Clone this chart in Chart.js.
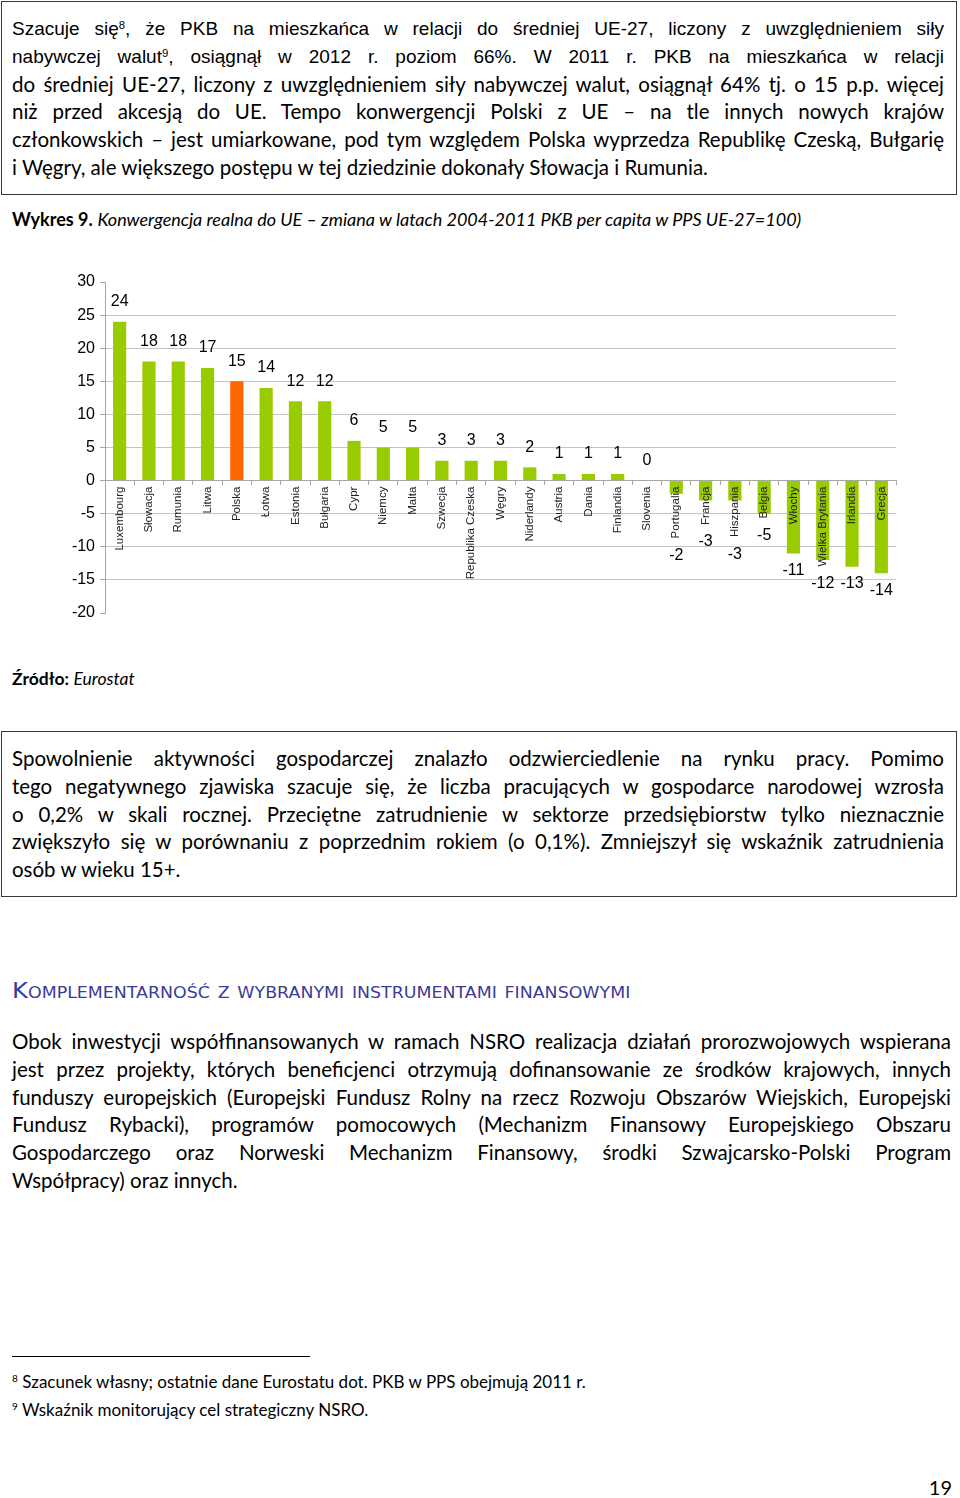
<!DOCTYPE html>
<html lang="pl">
<head>
<meta charset="utf-8">
<title>Wykres 9 - Konwergencja realna do UE</title>
<script src="https://cdn.jsdelivr.net/npm/chart.js@4.4.1/dist/chart.umd.min.js"></script>
<style>
  html, body { margin: 0; padding: 0; background: #fff; }
  body { width: 960px; height: 1498px; position: relative; overflow: hidden; color: #000;
         font-family: Lato, "Open Sans", sans-serif; }
  .abs { position: absolute; }
  .box { position: absolute; left: 1px; width: 956px; border: 1.5px solid #3a3a3a; box-sizing: border-box; }
  .ln { height: 27.8px; line-height: 27.8px; text-align: justify; text-align-last: justify; white-space: normal; }
  .ln.last { text-align-last: left; }
  .arial { font-family: "Liberation Sans", Arial, sans-serif; font-size: 19px; }
  .cal { font-size: 20px; }
  sup { font-size: 0.6em; vertical-align: baseline; position: relative; top: -0.55em; line-height: 0; }
  #heading { left: 12px; top: 978px; font-family: "DejaVu Sans", sans-serif; font-variant: small-caps;
             font-size: 21px; color: #3c3c96; white-space: nowrap; transform-origin: 0 50%; line-height: 26px; }
</style>
</head>
<body>

<div class="box" style="top:1px;height:194px;"></div>
<div class="abs" style="left:12px;top:15px;width:932px;">
  <div class="ln arial">Szacuje się<sup>8</sup>, że PKB na mieszkańca w relacji do średniej UE-27, liczony z uwzględnieniem siły</div>
  <div class="ln arial">nabywczej walut<sup>9</sup>, osiągnął w 2012 r. poziom 66%. W 2011 r. PKB na mieszkańca w relacji</div>
  <div class="ln cal">do średniej UE-27, liczony z uwzględnieniem siły nabywczej walut, osiągnął 64% tj. o 15 p.p. więcej</div>
  <div class="ln cal">niż przed akcesją do UE. Tempo konwergencji Polski z UE – na tle innych nowych krajów</div>
  <div class="ln cal">członkowskich – jest umiarkowane, pod tym względem Polska wyprzedza Republikę Czeską, Bułgarię</div>
  <div class="ln cal last">i Węgry, ale większego postępu w tej dziedzinie dokonały Słowacja i Rumunia.</div>
</div>

<div class="abs" style="left:12px;top:208px;font-size:18px;line-height:22px;">
  <b>Wykres 9.</b> <i>Konwergencja realna do UE – zmiana w latach 2004-2011 PKB per capita w PPS UE-27=100)</i>
</div>

<div class="abs" style="left:0;top:260px;width:960px;height:370px;">
  <canvas id="convergenceChart"></canvas>
</div>

<div class="abs" style="left:12px;top:668px;font-size:17.5px;line-height:22px;">
  <b>Źródło:</b> <i>Eurostat</i>
</div>

<div class="box" style="top:731px;height:166px;"></div>
<div class="abs" style="left:12px;top:745px;width:932px;">
  <div class="ln cal">Spowolnienie aktywności gospodarczej znalazło odzwierciedlenie na rynku pracy. Pomimo</div>
  <div class="ln cal">tego negatywnego zjawiska szacuje się, że liczba pracujących w gospodarce narodowej wzrosła</div>
  <div class="ln cal">o 0,2% w skali rocznej. Przeciętne zatrudnienie w sektorze przedsiębiorstw tylko nieznacznie</div>
  <div class="ln cal">zwiększyło się w porównaniu z poprzednim rokiem (o 0,1%). Zmniejszył się wskaźnik zatrudnienia</div>
  <div class="ln cal last">osób w wieku 15+.</div>
</div>

<div id="heading" class="abs">Komplementarność z wybranymi instrumentami finansowymi</div>

<div class="abs" style="left:12px;top:1028px;width:939px;">
  <div class="ln cal">Obok inwestycji współfinansowanych w ramach NSRO realizacja działań prorozwojowych wspierana</div>
  <div class="ln cal">jest przez projekty, których beneficjenci otrzymują dofinansowanie ze środków krajowych, innych</div>
  <div class="ln cal">funduszy europejskich (Europejski Fundusz Rolny na rzecz Rozwoju Obszarów Wiejskich, Europejski</div>
  <div class="ln cal">Fundusz Rybacki), programów pomocowych (Mechanizm Finansowy Europejskiego Obszaru</div>
  <div class="ln cal">Gospodarczego oraz Norweski Mechanizm Finansowy, środki Szwajcarsko-Polski Program</div>
  <div class="ln cal last">Współpracy) oraz innych.</div>
</div>

<div class="abs" style="left:12px;top:1356px;width:298px;height:1px;background:#000;"></div>
<div class="abs" style="left:12px;top:1368px;font-size:17px;line-height:28px;">
  <div><sup>8</sup> Szacunek własny; ostatnie dane Eurostatu dot. PKB w PPS obejmują 2011 r.</div>
  <div><sup>9</sup> Wskaźnik monitorujący cel strategiczny NSRO.</div>
</div>

<div class="abs" style="right:8px;top:1476px;font-size:20px;line-height:22px;">19</div>

<script>
// Chart data
const categories = ['Luxembourg', 'Słowacja', 'Rumunia', 'Litwa', 'Polska', 'Łotwa', 'Estonia', 'Bułgaria',
    'Cypr', 'Niemcy', 'Malta', 'Szwecja', 'Republika Czeska', 'Węgry', 'Niderlandy', 'Austria', 'Dania',
    'Finlandia', 'Slovenia', 'Portugalia', 'Francja', 'Hiszpania', 'Belgia', 'Włochy', 'Wielka Brytania',
    'Irlandia', 'Grecja'];
const values = [24, 18, 18, 17, 15, 14, 12, 12, 6, 5, 5, 3, 3, 3, 2, 1, 1, 1, 0, -2, -3, -3, -5, -11, -12, -13, -14];
const yTicks = [-20, -15, -10, -5, 0, 5, 10, 15, 20, 25, 30];
const highlighted = 'Polska';

const barGreen = '#99cc00';
const barOrange = '#ff6600';
const nameFontSize = 11.5;

// shrink a group of justified lines until none of them wraps
function fitLines(selector, size) {
    const lines = Array.from(document.querySelectorAll(selector));
    const wraps = () => lines.some(l => l.scrollHeight > 40);
    lines.forEach(l => l.style.fontSize = size + 'px');
    while (wraps() && size > 10) {
        size -= 0.25;
        lines.forEach(l => l.style.fontSize = size + 'px');
    }
}
fitLines('.ln.arial', 19);
fitLines('.ln.cal', 20.5);

const heading = document.getElementById('heading');
heading.style.transform = 'scaleX(' + (618 / heading.offsetWidth) + ')';

Chart.defaults.font.family = '"Liberation Sans", Arial, sans-serif';
Chart.defaults.color = '#000';

// value labels above positive bars, below the category name for negative ones
const valueLabels = {
    id: 'valueLabels',
    afterDatasetsDraw(chart) {
        const ctx = chart.ctx;
        const meta = chart.getDatasetMeta(0);
        const zeroY = chart.scales.y.getPixelForValue(0);
        ctx.save();
        ctx.font = nameFontSize + 'px "Liberation Sans", Arial, sans-serif';
        const nameEnds = categories.map(c => zeroY + 6 + ctx.measureText(c).width);
        ctx.font = '16px "Liberation Sans", Arial, sans-serif';
        ctx.fillStyle = '#000';
        ctx.textAlign = 'center';
        ctx.textBaseline = 'middle';
        meta.data.forEach((bar, i) => {
            const v = values[i];
            const y = v >= 0 ? bar.y - 20 : Math.max(bar.y, nameEnds[i]) + 17;
            ctx.fillText(String(v), bar.x, y);
        });
        ctx.restore();
    }
};

const ctxConvergence = document.getElementById('convergenceChart').getContext('2d');
const convergenceChart = new Chart(ctxConvergence, {
    type: 'bar',
    data: {
        labels: categories,
        datasets: [{
            data: values,
            backgroundColor: categories.map(c => c === highlighted ? barOrange : barGreen),
            borderWidth: 0,
            barPercentage: 0.45,
            categoryPercentage: 1,
        }]
    },
    options: {
        responsive: true,
        maintainAspectRatio: false,
        animation: false,
        layout: {
            padding: { top: 22, right: 64, bottom: 17, left: 0 },
        },
        scales: {
            x: {
                position: { y: 0 },
                grid: {
                    offset: true,
                    drawOnChartArea: false,
                    tickLength: 4,
                    color: '#a6a6a6',
                },
                border: { color: '#a6a6a6' },
                ticks: {
                    z: 1,
                    autoSkip: false,
                    minRotation: 90,
                    maxRotation: 90,
                    padding: 2,
                    color: '#222',
                    font: { size: nameFontSize },
                },
            },
            y: {
                min: -20,
                max: 30,
                afterBuildTicks: (scale) => { scale.ticks = yTicks.map(v => ({ value: v })); },
                afterFit: (scale) => { scale.width = 105; },
                grid: {
                    color: (c) => (c.tick && (c.tick.value === 30 || c.tick.value === -20)) ? 'rgba(0,0,0,0)' : '#c4c4c4',
                    tickColor: '#a6a6a6',
                    tickLength: 5,
                },
                border: { color: '#a6a6a6' },
                ticks: {
                    padding: 5,
                    color: '#000',
                    font: { size: 16 },
                },
            },
        },
        plugins: {
            legend: { display: false },
            tooltip: { enabled: false },
        },
    },
    plugins: [valueLabels],
});
</script>
</body>
</html>
